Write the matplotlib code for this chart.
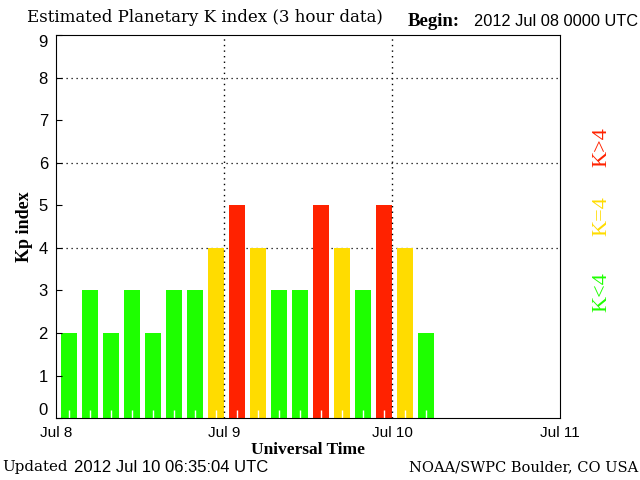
import matplotlib
matplotlib.use('Agg')
import matplotlib.pyplot as plt
import numpy as np

# Kp values, one per 3-hour slot starting 2012 Jul 08 0000 UTC
kp = [2, 3, 2, 3, 2, 3, 3, 4, 5, 4, 3, 3, 5, 4, 3, 5, 4, 2]
day_labels = ['Jul 8', 'Jul 9', 'Jul 10', 'Jul 11']

green = '#1EFF00'
yellow = '#FFDC00'
red = '#FF2200'

def kp_color(k):
    if k < 4:
        return green
    if k == 4:
        return yellow
    return red

fig = plt.figure(figsize=(6.4, 4.8), dpi=100)
ax = fig.add_axes([0.088, 0.129, 0.787, 0.798])
ax.set_axisbelow(False)

x = (np.arange(len(kp)) + 0.6) * 3
ax.bar(x, kp, width=2.3, color=[kp_color(k) for k in kp], zorder=2)

ax.set_xlim(0, 72)
ax.set_ylim(0, 9)
ax.set_xticks([0, 24, 48, 72])
ax.set_xticklabels(day_labels, family='Liberation Sans', fontsize=11)
ax.set_yticks(range(10))
ax.set_yticklabels([str(i) for i in range(10)], family='Liberation Sans', fontsize=12)
ax.tick_params(axis='y', direction='in', length=4, pad=6)
ax.tick_params(axis='x', length=0, pad=6)
ylabels = ax.get_yticklabels()
ylabels[0].set_va('bottom')
ylabels[-1].set_va('top')

# white 3-hour minor ticks over the bars
ax.set_xticks(x, minor=True)
ax.tick_params(axis='x', which='minor', direction='in', length=6, color='white', width=1)
for s in ax.spines.values():
    s.set_zorder(5)

for y in [4, 6, 8]:
    ax.axhline(y, color='black', linestyle=(0, (1, 3)), linewidth=0.9, zorder=1)
for d in [24, 48]:
    ax.axvline(d, color='black', linestyle=(0, (1, 3)), linewidth=1, zorder=3)

ax.set_xlabel('Universal Time', family='Liberation Serif', fontweight='bold', fontsize=12.5, labelpad=1)
ax.set_ylabel('Kp index', family='Liberation Serif', fontweight='bold', fontsize=13, labelpad=4)

fig.text(27 / 640, 1 - 18 / 480, 'Estimated Planetary K index (3 hour data)',
         family='DejaVu Serif', fontsize=12, va='center', ha='left')
fig.text(408 / 640, 1 - 21 / 480, 'Begin:', family='Liberation Serif', fontweight='bold',
         fontsize=13.5, va='center', ha='left')
fig.text(638 / 640, 1 - 21 / 480, '2012 Jul 08 0000 UTC', family='Liberation Sans',
         fontsize=11.8, va='center', ha='right')
fig.text(2 / 640, 1 - 467 / 480, 'Updated', family='DejaVu Serif',
         fontsize=10.8, va='center', ha='left')
fig.text(74 / 640, 1 - 467 / 480, '2012 Jul 10 06:35:04 UTC', family='Liberation Sans',
         fontsize=12, va='center', ha='left')
fig.text(638 / 640, 1 - 467 / 480, 'NOAA/SWPC Boulder, CO USA', family='DejaVu Serif',
         fontsize=10.5, va='center', ha='right')

fig.text(602 / 640, 1 - 147 / 480, 'K>4', color=red, rotation=90, family='Liberation Serif',
         fontsize=16, va='center', ha='center')
fig.text(602 / 640, 1 - 216 / 480, 'K=4', color=yellow, rotation=90, family='Liberation Serif',
         fontsize=16, va='center', ha='center')
fig.text(602 / 640, 1 - 292 / 480, 'K<4', color=green, rotation=90, family='Liberation Serif',
         fontsize=16, va='center', ha='center')

fig.savefig('out.png', dpi=100)
